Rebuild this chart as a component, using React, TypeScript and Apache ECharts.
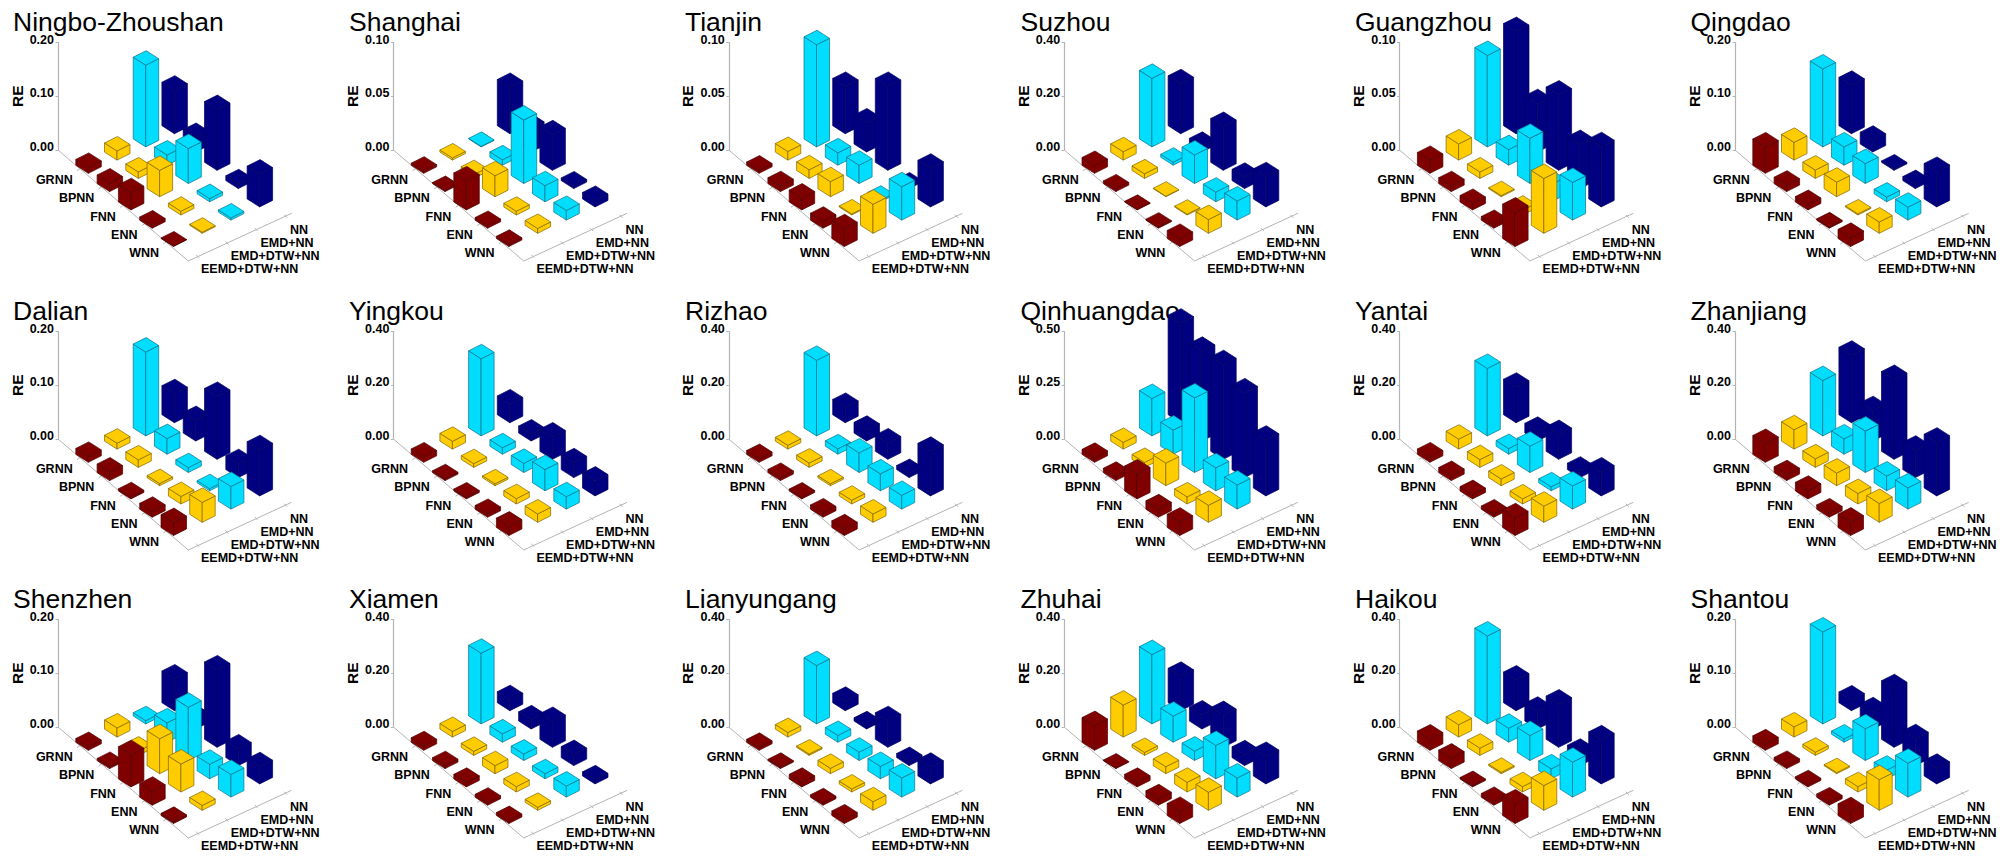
import React, { useEffect, useRef } from "react";
import * as echarts from "echarts";

const models = ["GRNN", "BPNN", "FNN", "ENN", "WNN"];
const methods = ["EEMD+DTW+NN", "EMD+DTW+NN", "EMD+NN", "NN"];
const colors = ["#800000", "#FFCC00", "#00DDFF", "#000080"];
const edges = ["#4d0000", "#806600", "#0b7486", "#000060"];

// Each port: one row per method (EEMD+DTW+NN, EMD+DTW+NN, EMD+NN, NN), one value per model
const ningboZhoushan = [[0.011, 0.016, 0.032, 0.006, 0.001], [0.017, 0.012, 0.049, 0.007, 0.002], [0.152, 0.019, 0.065, 0.006, 0.004], [0.081, 0.027, 0.113, 0.009, 0.061]];
const shanghai = [[0.002, 0.001, 0.027, 0.0025, 0.002], [0.002, 0.0035, 0.0195, 0.0035, 0.0045], [0.0005, 0.005, 0.059, 0.015, 0.009], [0.043, 0.022, 0.033, 0.0025, 0.006]];
const tianjin = [[0.003, 0.0055, 0.011, 0.0065, 0.0165], [0.008, 0.008, 0.014, 0.001, 0.027], [0.095, 0.0115, 0.017, 0.0015, 0.031], [0.044, 0.027, 0.078, 0.0015, 0.036]];
const suzhou = [[0.029, 0.01, 0.002, 0.004, 0.03], [0.031, 0.017, 0.002, 0.003, 0.051], [0.255, 0.011, 0.106, 0.036, 0.071], [0.186, 0.021, 0.163, 0.042, 0.112]];
const guangzhou = [[0.012, 0.0055, 0.006, 0.0035, 0.032], [0.015, 0.006, 0.001, 0.0045, 0.051], [0.085, 0.0145, 0.042, 0.016, 0.035], [0.095, 0.045, 0.07, 0.041, 0.056]];
const qingdao = [[0.049, 0.012, 0.01, 0.0025, 0.017], [0.033, 0.0155, 0.027, 0.002, 0.021], [0.145, 0.034, 0.037, 0.0087, 0.024], [0.09, 0.022, 0.0025, 0.0075, 0.066]];
const dalian = [[0.011, 0.016, 0.004, 0.011, 0.024], [0.011, 0.014, 0.004, 0.014, 0.037], [0.156, 0.029, 0.009, 0.004, 0.042], [0.054, 0.038, 0.117, 0.026, 0.086]];
const yingkou = [[0.02, 0.007, 0.007, 0.014, 0.035], [0.029, 0.014, 0.007, 0.02, 0.031], [0.287, 0.024, 0.034, 0.079, 0.046], [0.07, 0.026, 0.083, 0.055, 0.055]];
const rizhao = [[0.014, 0.012, 0.007, 0.016, 0.025], [0.014, 0.016, 0.007, 0.014, 0.031], [0.281, 0.02, 0.073, 0.063, 0.051], [0.057, 0.04, 0.061, 0.015, 0.166]];
const qinhuangdao = [[0.023, 0.02, 0.116, 0.039, 0.062], [0.031, 0.023, 0.105, 0.033, 0.079], [0.174, 0.112, 0.347, 0.107, 0.112], [0.463, 0.417, 0.44, 0.394, 0.259]];
const yantai = [[0.02, 0.019, 0.016, 0.012, 0.066], [0.037, 0.029, 0.025, 0.019, 0.06], [0.251, 0.021, 0.098, 0.015, 0.086], [0.132, 0.036, 0.092, 0.024, 0.089]];
const zhanjiang = [[0.07, 0.022, 0.032, 0.016, 0.05], [0.072, 0.032, 0.047, 0.039, 0.07], [0.206, 0.057, 0.154, 0.055, 0.079], [0.251, 0.113, 0.297, 0.102, 0.2]];
const shenzhen = [[0.007, 0.004, 0.06, 0.026, 0.004], [0.017, 0.008, 0.065, 0.052, 0.009], [0.006, 0.036, 0.099, 0.027, 0.042], [0.059, 0.018, 0.144, 0.031, 0.032]];
const xiamen = [[0.017, 0.011, 0.017, 0.011, 0.011], [0.021, 0.015, 0.03, 0.02, 0.011], [0.263, 0.031, 0.024, 0.019, 0.041], [0.041, 0.034, 0.096, 0.041, 0.015]];
const lianyungang = [[0.011, 0.005, 0.017, 0.009, 0.017], [0.017, 0.005, 0.02, 0.011, 0.032], [0.217, 0.025, 0.031, 0.046, 0.071], [0.035, 0.012, 0.099, 0.015, 0.062]];
const zhuhai = [[0.092, 0.002, 0.017, 0.024, 0.045], [0.119, 0.011, 0.026, 0.036, 0.067], [0.258, 0.097, 0.035, 0.124, 0.071], [0.128, 0.052, 0.118, 0.04, 0.102]];
const haikou = [[0.042, 0.039, 0.005, 0.014, 0.073], [0.046, 0.027, 0.005, 0.02, 0.092], [0.327, 0.052, 0.093, 0.037, 0.13], [0.114, 0.066, 0.161, 0.046, 0.164]];
const shantou = [[0.012, 0.006, 0.004, 0.006, 0.022], [0.019, 0.006, 0.002, 0.01, 0.057], [0.171, 0.006, 0.059, 0.016, 0.063], [0.02, 0.032, 0.109, 0.05, 0.029]];

const portNames = [
  "Ningbo-Zhoushan", "Shanghai", "Tianjin", "Suzhou", "Guangzhou", "Qingdao",
  "Dalian", "Yingkou", "Rizhao", "Qinhuangdao", "Yantai", "Zhanjiang",
  "Shenzhen", "Xiamen", "Lianyungang", "Zhuhai", "Haikou", "Shantou",
];
const portValues = [
  ningboZhoushan, shanghai, tianjin, suzhou, guangzhou, qingdao,
  dalian, yingkou, rizhao, qinhuangdao, yantai, zhanjiang,
  shenzhen, xiamen, lianyungang, zhuhai, haikou, shantou,
];
const axisMax = [
  0.2, 0.1, 0.1, 0.4, 0.1, 0.2,
  0.2, 0.4, 0.4, 0.5, 0.4, 0.4,
  0.2, 0.4, 0.4, 0.4, 0.4, 0.2,
];

// layout
const colAxisX = [58, 393.4, 728.8, 1064.2, 1399.6, 1735];
const rowZeroY = [150, 439, 727];
const colTitleX = [13, 349, 685, 1020.5, 1355, 1690.5];
const rowTitleTop = [8, 297, 585];
const AXIS_H = 107.5;
const STEP_I = [21.3, 18.3];
const STEP_J = [28.7, -13.2];
const FRONT0 = [30.3, 23.3];
const FOOT_A = [12.5, 8];
const FOOT_B = [13, -6.5];
const FONT = '"Liberation Sans", Arial, sans-serif';
const GRAY = "#b4b4b4";

function renderBar(_: any, api: any) {
  const i = api.value(0), j = api.value(1), v = api.value(2);
  const o = api.coord([0, 0]);
  const h = o[1] - api.coord([0, v])[1];
  const fx = o[0] + FRONT0[0] + i * STEP_I[0] + j * STEP_J[0];
  const fy = o[1] + FRONT0[1] + i * STEP_I[1] + j * STEP_J[1];
  const style = { fill: colors[j], stroke: edges[j], lineWidth: 0.7 };
  const lx = fx - FOOT_A[0], ly = fy - FOOT_A[1];
  const rx = fx + FOOT_B[0], ry = fy + FOOT_B[1];
  const bx = lx + FOOT_B[0], by = ly + FOOT_B[1];
  const poly = (points: number[][]) => ({ type: "polygon", shape: { points }, style });
  return {
    type: "group",
    children: [
      poly([[lx, ly - h], [fx, fy - h], [fx, fy], [lx, ly]]),
      poly([[fx, fy - h], [rx, ry - h], [rx, ry], [fx, fy]]),
      poly([[lx, ly - h], [bx, by - h], [rx, ry - h], [fx, fy - h]]),
    ],
  };
}

function renderFloor(_: any, api: any) {
  const o = api.coord([0, 0]);
  const line = (x1: number, y1: number, x2: number, y2: number) => ({
    type: "line",
    shape: { x1: o[0] + x1, y1: o[1] + y1, x2: o[0] + x2, y2: o[1] + y2 },
    style: { stroke: GRAY, lineWidth: 1 },
  });
  const label = (text: string, x: number, y: number, align: string) => ({
    type: "text",
    style: {
      text, x: o[0] + x, y: o[1] + y, fill: "#000",
      font: `bold 12.5px ${FONT}`,
      fontFamily: FONT, fontSize: 12.5, fontWeight: "bold",
      align, textAlign: align, verticalAlign: "middle", textVerticalAlign: "middle",
    },
  });
  const children: any[] = [line(0, 0, 130.3, 111), line(130.3, 111, 233.7, 63.3)];
  models.forEach((m, i) => {
    const tx = 22 + i * 21.6, ty = 18.7 + i * 18.3;
    children.push(line(tx, ty, tx - 3, ty + 2));
    children.push(label(m, 14.7 + i * 21.6, 30 + i * 18.3, "right"));
  });
  methods.forEach((m, j) => {
    const tx = 140 + j * 29.4, ty = 106.7 - j * 13.3;
    children.push(line(tx - 2, ty - 2, tx + 1, ty + 1));
    children.push(label(m, 143 + j * 29.7, 119.3 - j * 13.2, "left"));
  });
  return { type: "group", children };
}

function buildOption() {
  const grid: any[] = [], xAxis: any[] = [], yAxis: any[] = [], series: any[] = [], title: any[] = [];
  portNames.forEach((name, k) => {
    const col = k % 6, row = Math.floor(k / 6);
    const y0 = rowZeroY[row];
    const max = axisMax[k];
    title.push({
      text: name, left: colTitleX[col], top: rowTitleTop[row], padding: 0, z: 1,
      textStyle: { fontFamily: FONT, fontSize: 26.5, fontWeight: "normal", color: "#000" },
    });
    grid.push({ left: colAxisX[col], top: y0 - AXIS_H, width: 230, height: AXIS_H, containLabel: false });
    xAxis.push({ gridIndex: k, type: "value", min: 0, max: 4, show: false });
    yAxis.push({
      gridIndex: k, type: "value", min: 0, max, interval: max / 2,
      name: "RE", nameLocation: "middle", nameGap: 33, nameRotate: 90,
      nameTextStyle: { fontFamily: FONT, fontSize: 15.5, fontWeight: "bold", color: "#000" },
      splitLine: { show: false },
      axisLine: { show: true, lineStyle: { color: GRAY, width: 1.2 } },
      axisTick: { show: true, length: 2.5, lineStyle: { color: GRAY, width: 1 } },
      axisLabel: {
        margin: 4, verticalAlign: "bottom", lineHeight: 6, fontFamily: FONT, fontSize: 12.5, fontWeight: "bold", color: "#000",
        formatter: (v: number) => v.toFixed(2),
      },
    });
    series.push({
      type: "custom", name: `${name} floor`, coordinateSystem: "cartesian2d", xAxisIndex: k, yAxisIndex: k,
      z: 2, silent: true, clip: false, renderItem: renderFloor, data: [[0, 0]], encode: { x: 0, y: 1 },
    });
    const data: number[][] = [];
    for (let j = methods.length - 1; j >= 0; j--) {
      models.forEach((_, i) => data.push([i, j, portValues[k][j][i]]));
    }
    series.push({
      type: "custom", name, coordinateSystem: "cartesian2d", xAxisIndex: k, yAxisIndex: k,
      z: 3, silent: true, clip: false, renderItem: renderBar, data, encode: { x: 0, y: 2 },
    });
  });
  return { animation: false, backgroundColor: "#fff", title, grid, xAxis, yAxis, series, tooltip: { show: false } };
}

export default function App() {
  const ref = useRef<HTMLDivElement>(null);
  useEffect(() => {
    document.body.style.margin = "0";
    const chart = echarts.init(ref.current!, undefined, { renderer: "svg" });
    chart.setOption(buildOption() as any);
    return () => chart.dispose();
  }, []);
  return <div ref={ref} style={{ width: 2000, height: 856 }} />;
}
